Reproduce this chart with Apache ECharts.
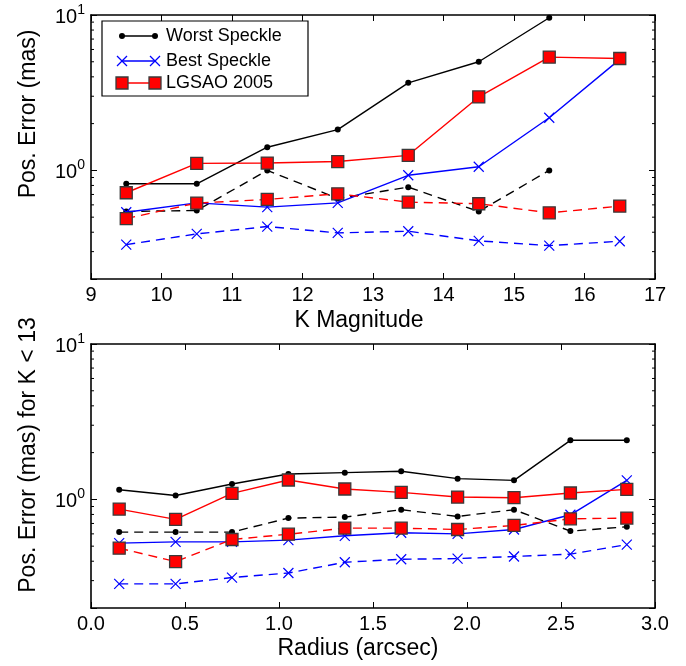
<!DOCTYPE html>
<html>
<head>
<meta charset="utf-8">
<script src="https://cdn.jsdelivr.net/npm/echarts@6/dist/echarts.min.js"></script>
<style>html,body{margin:0;padding:0;background:#fff;}#c{width:686px;height:666px;}</style>
</head>
<body>
<div id="c"></div>
<script>
// ---- data ----
const kMag = [9.5, 10.5, 11.5, 12.5, 13.5, 14.5, 15.5, 16.5];
const worstK     = [0.82, 0.82, 1.41, 1.83, 3.66, 5.0, 9.6, null];
const worstKDash = [0.544, 0.552, 1.0, 0.66, 0.78, 0.544, 1.0, null];
const bestK      = [0.538, 0.618, 0.58, 0.618, 0.93, 1.056, 2.18, 5.18];
const bestKDash  = [0.333, 0.39, 0.435, 0.396, 0.406, 0.352, 0.328, 0.35];
const lgsK       = [0.718, 1.11, 1.115, 1.14, 1.25, 2.97, 5.36, 5.25];
const lgsKDash   = [0.49, 0.616, 0.65, 0.707, 0.625, 0.61, 0.533, 0.589];

const radius = [0.15, 0.45, 0.75, 1.05, 1.35, 1.65, 1.95, 2.25, 2.55, 2.85];
const worstR     = [1.154, 1.06, 1.256, 1.457, 1.486, 1.516, 1.36, 1.326, 2.40, 2.40];
const worstRDash = [0.616, 0.616, 0.616, 0.758, 0.769, 0.858, 0.777, 0.858, 0.625, 0.666];
const bestR      = [0.523, 0.533, 0.533, 0.547, 0.583, 0.61, 0.60, 0.64, 0.796, 1.326];
const bestRDash  = [0.286, 0.286, 0.314, 0.336, 0.394, 0.412, 0.416, 0.429, 0.444, 0.512];
const lgsR       = [0.866, 0.743, 1.093, 1.333, 1.166, 1.11, 1.035, 1.025, 1.099, 1.16];
const lgsRDash   = [0.485, 0.398, 0.552, 0.597, 0.653, 0.653, 0.64, 0.68, 0.75, 0.758];

const minorTickVals = [0.3, 0.4, 0.5, 0.6, 0.7, 0.8, 0.9, 2, 3, 4, 5, 6, 7, 8, 9];
const legendNames = ['Worst Speckle', 'Best Speckle', 'LGSAO 2005'];
const yTitles = ['Pos. Error (mas)', 'Pos. Error (mas) for K < 13'];
const xTitles = ['K Magnitude', 'Radius (arcsec)'];

// ---- styling ----
const FONT = '"Liberation Sans", Arial, Helvetica, sans-serif';
const X_PATH = 'path://M0,0L10,10M10,0L0,10';
const styles = {
  worst: {color: '#000', symbol: 'circle', symbolSize: 6},
  best:  {color: '#0000ff', symbol: X_PATH, symbolSize: 10},
  lgs:   {color: '#ff0000', symbol: 'rect', symbolSize: 12}
};

function pairs(xs, ys) {
  const out = [];
  xs.forEach((x, i) => { if (ys[i] != null) out.push([x, ys[i]]); });
  return out;
}

function mkSeries(name, key, xs, ys, dashed, gi) {
  const s = styles[key];
  const itemStyle = {color: s.color};
  if (key === 'lgs') { itemStyle.borderColor = '#3a3a3a'; itemStyle.borderWidth = 1.3; }
  if (key === 'best') { itemStyle.borderColor = s.color; itemStyle.borderWidth = 1.2; }
  return {
    type: 'line', name: name,
    xAxisIndex: gi * 2, yAxisIndex: gi * 2,
    data: pairs(xs, ys),
    symbol: s.symbol, symbolSize: s.symbolSize, showSymbol: true,
    lineStyle: {color: s.color, width: 1.4, type: dashed ? [9, 6] : 'solid'},
    itemStyle: itemStyle,
    z: key === 'lgs' ? 5 : (key === 'best' ? 4 : 3),
    silent: true, animation: false, clip: false
  };
}

function minorSeries(gi, xMin) {
  return {
    type: 'custom', xAxisIndex: gi * 2, yAxisIndex: gi * 2, silent: true, animation: false,
    data: minorTickVals.map(v => [xMin, v]),
    renderItem: function (params, api) {
      const y = api.coord([api.value(0), api.value(1)])[1];
      const cs = params.coordSys;
      return {type: 'group', children: [
        {type: 'line', shape: {x1: cs.x, y1: y, x2: cs.x + 3, y2: y}, style: {stroke: '#000', lineWidth: 1}},
        {type: 'line', shape: {x1: cs.x + cs.width - 3, y1: y, x2: cs.x + cs.width, y2: y}, style: {stroke: '#000', lineWidth: 1}}
      ]};
    }
  };
}

const axisLineStyle = {show: true, onZero: false, lineStyle: {color: '#000', width: 1.6}};
const tickStyle = {show: true, inside: true, length: 6, lineStyle: {color: '#000', width: 1}};
const labelFont = {color: '#000', fontFamily: FONT, fontSize: 20};

function yLabelFmt(v) {
  const e = Math.round(Math.log10(v));
  if (Math.abs(Math.log10(v) - e) > 1e-6) return '';
  return '{b|10}{s|' + e + '}';
}

function makeX(gi, min, max, interval, fmt) {
  return [
    {type: 'value', gridIndex: gi, min: min, max: max, interval: interval, position: 'bottom',
     axisLine: axisLineStyle, axisTick: tickStyle, splitLine: {show: false},
     axisLabel: Object.assign({margin: 6, formatter: fmt}, labelFont)},
    {type: 'value', gridIndex: gi, min: min, max: max, interval: interval, position: 'top',
     axisLine: axisLineStyle, axisTick: tickStyle, splitLine: {show: false}, axisLabel: {show: false}}
  ];
}
function makeY(gi) {
  return [
    {type: 'log', logBase: 10, gridIndex: gi, min: 0.2, max: 10, position: 'left',
     axisLine: axisLineStyle, axisTick: tickStyle, splitLine: {show: false}, minorTick: {show: false},
     axisLabel: {margin: 6, formatter: yLabelFmt, rich: {
       b: {fontFamily: FONT, fontSize: 20, color: '#000', lineHeight: 24, verticalAlign: 'bottom'},
       s: {fontFamily: FONT, fontSize: 14, color: '#000', lineHeight: 14, verticalAlign: 'top'}
     }}},
    {type: 'log', logBase: 10, gridIndex: gi, min: 0.2, max: 10, position: 'right',
     axisLine: axisLineStyle, axisTick: tickStyle, splitLine: {show: false}, axisLabel: {show: false}}
  ];
}

const series = [
  mkSeries('Worst Speckle', 'worst', kMag, worstK, false, 0),
  mkSeries('Best Speckle', 'best', kMag, bestK, false, 0),
  mkSeries('Worst Speckle dashed', 'worst', kMag, worstKDash, true, 0),
  mkSeries('Best Speckle dashed', 'best', kMag, bestKDash, true, 0),
  mkSeries('LGSAO 2005', 'lgs', kMag, lgsK, false, 0),
  mkSeries('LGSAO 2005 dashed', 'lgs', kMag, lgsKDash, true, 0),
  mkSeries('Worst Speckle', 'worst', radius, worstR, false, 1),
  mkSeries('Best Speckle', 'best', radius, bestR, false, 1),
  mkSeries('Worst Speckle dashed', 'worst', radius, worstRDash, true, 1),
  mkSeries('Best Speckle dashed', 'best', radius, bestRDash, true, 1),
  mkSeries('LGSAO 2005', 'lgs', radius, lgsR, false, 1),
  mkSeries('LGSAO 2005 dashed', 'lgs', radius, lgsRDash, true, 1),
  minorSeries(0, 9),
  minorSeries(1, 0)
];

// ---- legend (drawn as graphic) ----
const legendX = 102, legendY = 21, legendW = 206, legendH = 75;
const rowY = [36, 61, 83];
const legendChildren = [{type: 'rect', shape: {x: legendX, y: legendY, width: legendW, height: legendH},
  style: {fill: '#fff', stroke: '#000', lineWidth: 1.2}}];
['worst', 'best', 'lgs'].forEach((k, i) => {
  const y = rowY[i], x1 = 122, x2 = 155, col = styles[k].color;
  legendChildren.push({type: 'line', shape: {x1: x1, y1: y, x2: x2, y2: y}, style: {stroke: col, lineWidth: 1.4}});
  [x1, x2].forEach(x => {
    if (k === 'worst') legendChildren.push({type: 'circle', shape: {cx: x, cy: y, r: 3}, style: {fill: col}});
    if (k === 'best') legendChildren.push({type: 'polyline', shape: {points: [[x - 5, y - 5], [x + 5, y + 5]]}, style: {stroke: col, lineWidth: 1.2}},
                                         {type: 'polyline', shape: {points: [[x + 5, y - 5], [x - 5, y + 5]]}, style: {stroke: col, lineWidth: 1.2}});
    if (k === 'lgs') legendChildren.push({type: 'rect', shape: {x: x - 6, y: y - 6, width: 12, height: 12}, style: {fill: col, stroke: '#3a3a3a', lineWidth: 1.3}});
  });
  legendChildren.push({type: 'text', x: 166, y: y, style: {text: legendNames[i], fill: '#000', font: '18px ' + FONT, textVerticalAlign: 'middle'}});
});

const titleFont = '23px ' + FONT;
const graphic = [
  {type: 'group', children: legendChildren, z: 100},
  {type: 'text', x: 29, y: 114, rotation: Math.PI / 2, style: {text: yTitles[0], font: titleFont, fill: '#000', textAlign: 'center', textVerticalAlign: 'middle'}},
  {type: 'text', x: 29, y: 455, rotation: Math.PI / 2, style: {text: yTitles[1], font: titleFont, fill: '#000', textAlign: 'center', textVerticalAlign: 'middle'}},
  {type: 'text', x: 359, y: 321, style: {text: xTitles[0], font: titleFont, fill: '#000', textAlign: 'center', textVerticalAlign: 'middle'}},
  {type: 'text', x: 358, y: 649, style: {text: xTitles[1], font: titleFont, fill: '#000', textAlign: 'center', textVerticalAlign: 'middle'}}
];

const chart = echarts.init(document.getElementById('c'), null, {renderer: 'canvas'});
chart.setOption({
  animation: false,
  backgroundColor: '#fff',
  grid: [
    {left: 91, top: 15, width: 564, height: 264, containLabel: false},
    {left: 91, top: 344, width: 564, height: 264, containLabel: false}
  ],
  xAxis: makeX(0, 9, 17, 1, v => String(v)).concat(makeX(1, 0, 3, 0.5, v => v.toFixed(1))),
  yAxis: makeY(0).concat(makeY(1)),
  series: series,
  graphic: graphic
});
</script>
</body>
</html>
